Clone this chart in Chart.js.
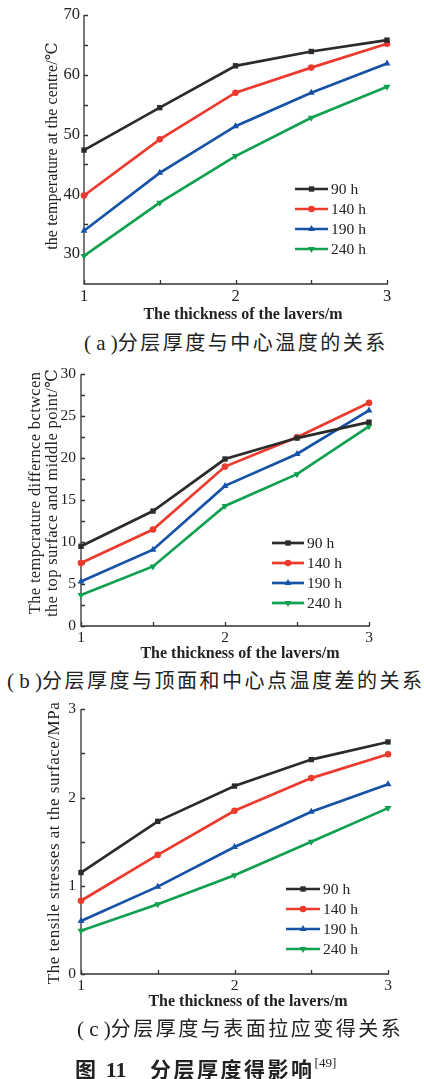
<!DOCTYPE html>
<html><head><meta charset="utf-8">
<script src="https://cdn.jsdelivr.net/npm/chart.js@4.4.0/dist/chart.umd.min.js"></script>
<style>
html,body{margin:0;padding:0;background:#fff;}
body{width:424px;height:1079px;position:relative;overflow:hidden;}
canvas{position:absolute;left:0;}
.cap{position:absolute;font-family:"Noto Sans CJK SC";font-size:20px;letter-spacing:2.5px;color:#222;white-space:nowrap;line-height:22px;}
.cap .p{font-family:"Liberation Serif";font-size:21px;letter-spacing:0;}
.fig{position:absolute;font-family:"Noto Sans CJK SC";font-weight:bold;font-size:21px;letter-spacing:2.5px;color:#222;white-space:nowrap;line-height:22px;}
.fig .n{font-family:"Liberation Serif";font-weight:bold;font-size:22px;letter-spacing:0;}
.fig sup{font-family:"Liberation Serif";font-weight:normal;font-size:13px;letter-spacing:0;vertical-align:top;position:relative;top:-5px;}
</style></head><body>
<canvas id="ca" width="424" height="325" style="top:0"></canvas>
<canvas id="cb" width="424" height="305" style="top:360px"></canvas>
<canvas id="cc" width="424" height="320" style="top:695px"></canvas>
<div class="cap" style="left:84px;top:331px"><span class="p">( a )</span>分层厚度与中心温度的关系</div>
<div class="cap" style="left:7px;top:669px"><span class="p">( b )</span>分层厚度与顶面和中心点温度差的关系</div>
<div class="cap" style="left:77px;top:1017px"><span class="p">( c )</span>分层厚度与表面拉应变得关系</div>
<div class="fig" style="left:75px;top:1057px">图 <span class="n">11</span>　分层厚度得影响<sup>[49]</sup></div>
<script>
// ---- data ----
const thickness = [1, 1.5, 2, 2.5, 3];
const seriesNames = ['90 h', '140 h', '190 h', '240 h'];

const centreTemp90  = [47.4, 54.5, 61.5, 63.9, 65.8];
const centreTemp140 = [39.8, 49.2, 57.0, 61.2, 65.2];
const centreTemp190 = [33.9, 43.6, 51.4, 57.0, 61.9];
const centreTemp240 = [29.7, 38.6, 46.4, 52.8, 58.0];

const tempDiff90  = [9.5, 13.7, 19.9, 22.4, 24.3];
const tempDiff140 = [7.5, 11.5, 19.0, 22.5, 26.6];
const tempDiff190 = [5.3, 9.1, 16.7, 20.5, 25.7];
const tempDiff240 = [3.7, 7.1, 14.3, 18.1, 23.8];

const stress90  = [1.15, 1.73, 2.13, 2.43, 2.63];
const stress140 = [0.83, 1.35, 1.85, 2.22, 2.49];
const stress190 = [0.60, 0.99, 1.44, 1.84, 2.15];
const stress240 = [0.49, 0.79, 1.12, 1.50, 1.88];

const xLabelValues = [1, 2, 3];
const xTickMarks = [1, 1.5, 2, 2.5, 3];
const yLabelsA = [30, 40, 50, 60, 70];
const yMarksA = [30, 35, 40, 45, 50, 55, 60, 65, 70];
const yLabelsB = [0, 5, 10, 15, 20, 25, 30];
const yMarksB = [0, 2.5, 5, 7.5, 10, 12.5, 15, 17.5, 20, 22.5, 25, 27.5, 30];
const yLabelsC = [0, 1, 2, 3];
const yMarksC = [0, 0.5, 1, 1.5, 2, 2.5, 3];

const colors = ['#2b2b2b', '#ec3a2e', '#1652a6', '#10a04f'];
const styles = [
  {pointStyle: 'rect', r: 3.8, rot: 0},
  {pointStyle: 'circle', r: 3.3, rot: 0},
  {pointStyle: 'triangle', r: 4, rot: 0},
  {pointStyle: 'triangle', r: 4, rot: 180}
];

const SERIF = '"Liberation Serif", "DejaVu Serif", serif';

function drawMarker(ctx, st, x, y, color) {
  ctx.save();
  ctx.fillStyle = color;
  ctx.beginPath();
  const r = st.r;
  if (st.pointStyle === 'rect') {
    const s = Math.SQRT1_2 * r;
    ctx.rect(x - s, y - s, 2 * s, 2 * s);
  } else if (st.pointStyle === 'circle') {
    ctx.arc(x, y, r, 0, Math.PI * 2);
  } else {
    let rad = st.rot * Math.PI / 180;
    for (let i = 0; i < 3; i++) {
      const px = x + Math.sin(rad) * r, py = y - Math.cos(rad) * r;
      if (i === 0) ctx.moveTo(px, py); else ctx.lineTo(px, py);
      rad += 2 * Math.PI / 3;
    }
    ctx.closePath();
  }
  ctx.fill();
  ctx.restore();
}

const decor = {
  id: 'decor',
  beforeDatasetsDraw(chart, args, o) {
    const ctx = chart.ctx, xs = chart.scales.x, ys = chart.scales.y, ca = chart.chartArea;
    ctx.save();
    ctx.strokeStyle = '#333';
    ctx.lineWidth = 1.3;
    ctx.beginPath();
    ctx.moveTo(ca.left, ca.top);
    ctx.lineTo(ca.left, ca.bottom);
    ctx.lineTo(ca.right + 1, ca.bottom);
    o.xMarks.forEach(v => {
      const px = Math.round(xs.getPixelForValue(v)) + 0.5;
      ctx.moveTo(px, ca.bottom);
      ctx.lineTo(px, ca.bottom - 4);
    });
    o.yMarks.forEach(v => {
      const py = Math.round(ys.getPixelForValue(v)) + 0.5;
      ctx.moveTo(ca.left, py);
      ctx.lineTo(ca.left + 4, py);
    });
    ctx.stroke();
    ctx.restore();
  },
  afterDraw(chart, args, o) {
    const ctx = chart.ctx;
    ctx.save();
    ctx.fillStyle = '#222';
    // y title
    ctx.font = o.yFont + 'px ' + SERIF;
    ctx.letterSpacing = o.ySpacing + 'px';
    ctx.textAlign = 'center';
    ctx.textBaseline = 'middle';
    o.yTitle.forEach((line, i) => {
      ctx.save();
      ctx.translate(o.yTitleX[i], o.yTitleY);
      ctx.rotate(-Math.PI / 2);
      ctx.fillText(line, 0, 0);
      ctx.restore();
    });
    ctx.letterSpacing = '0px';
    // x title
    ctx.font = 'bold 16px ' + SERIF;
    ctx.fillText(o.xTitle, o.xTitleX, o.xTitleY);
    // legend
    ctx.font = '15.5px ' + SERIF;
    ctx.textAlign = 'left';
    chart.data.datasets.forEach((ds, i) => {
      const y = o.legY + i * 20;
      ctx.strokeStyle = ds.borderColor;
      ctx.lineWidth = 2.7;
      ctx.beginPath();
      ctx.moveTo(o.legX, y);
      ctx.lineTo(o.legX + o.legLen, y);
      ctx.stroke();
      drawMarker(ctx, styles[i], o.legX + o.legLen / 2, y, ds.borderColor);
      ctx.fillStyle = '#222';
      ctx.fillText(ds.label, o.legX + o.legLen + 3, y + 1);
    });
    ctx.restore();
  }
};

function makeChart(id, H, area, yRange, yLabels, yMarks, series, deco) {
  const datasets = series.map((vals, i) => ({
    label: seriesNames[i],
    data: thickness.map((x, j) => ({x: x, y: vals[j]})),
    borderColor: colors[i],
    backgroundColor: colors[i],
    borderWidth: 2.7,
    pointStyle: styles[i].pointStyle,
    rotation: styles[i].rot,
    pointRadius: styles[i].r,
    pointBorderWidth: 0,
    pointBackgroundColor: colors[i],
    tension: 0,
    clip: false
  }));
  return new Chart(document.getElementById(id), {
    type: 'line',
    data: {datasets},
    options: {
      responsive: false,
      animation: false,
      devicePixelRatio: 1,
      layout: {padding: {left: 0, top: area.top, right: 424 - area.right, bottom: 0}},
      plugins: {legend: {display: false}, tooltip: {enabled: false}, decor: deco},
      scales: {
        x: {
          type: 'linear', min: 1, max: 3,
          grid: {display: false, drawTicks: false},
          border: {display: false},
          ticks: {color: '#222', padding: 3, font: {family: SERIF, size: area.fs}},
          afterBuildTicks: s => { s.ticks = xLabelValues.map(v => ({value: v})); },
          afterFit: s => { s.height = H - area.bottom; }
        },
        y: {
          type: 'linear', min: yRange[0], max: yRange[1],
          grid: {display: false, drawTicks: false},
          border: {display: false},
          ticks: {color: '#222', padding: area.lp, font: {family: SERIF, size: area.fs}},
          afterBuildTicks: s => { s.ticks = yLabels.map(v => ({value: v})); },
          afterFit: s => { s.width = area.left; }
        }
      }
    },
    plugins: [decor]
  });
}

makeChart('ca', 325, {left: 84, top: 15, right: 387, bottom: 284, lp: 4, fs: 16.5}, [25, 70], yLabelsA, yMarksA,
  [centreTemp90, centreTemp140, centreTemp190, centreTemp240],
  {xMarks: xTickMarks, yMarks: yMarksA,
   yTitle: ['the temperature at the centre/℃'], yTitleX: [53], yTitleY: 146, yFont: 16, ySpacing: 0.1,
   xTitle: 'The thickness of the lavers/m', xTitleX: 243, xTitleY: 315,
   legX: 295, legLen: 33, legY: 189});

makeChart('cb', 305, {left: 81, top: 12, right: 369, bottom: 266, lp: 5, fs: 15.5}, [0, 30], yLabelsB, yMarksB,
  [tempDiff90, tempDiff140, tempDiff190, tempDiff240],
  {xMarks: xTickMarks, yMarks: yMarksB,
   yTitle: ['The tempcrature differnce bctwcen', 'the top surface and middle point/℃'], yTitleX: [36, 53], yTitleY: 133, yFont: 16.5, ySpacing: 0.35,
   xTitle: 'The thickness of the lavers/m', xTitleX: 240, xTitleY: 294,
   legX: 272, legLen: 32, legY: 183});

makeChart('cc', 320, {left: 81, top: 14, right: 388, bottom: 279, lp: 5, fs: 15.5}, [0, 3], yLabelsC, yMarksC,
  [stress90, stress140, stress190, stress240],
  {xMarks: xTickMarks, yMarks: yMarksC,
   yTitle: ['The tensile stresses at the surface/MPa'], yTitleX: [55], yTitleY: 148, yFont: 17, ySpacing: 0.5,
   xTitle: 'The thickness of the lavers/m', xTitleX: 248, xTitleY: 307,
   legX: 286, legLen: 34, legY: 194});
</script>
</body></html>
